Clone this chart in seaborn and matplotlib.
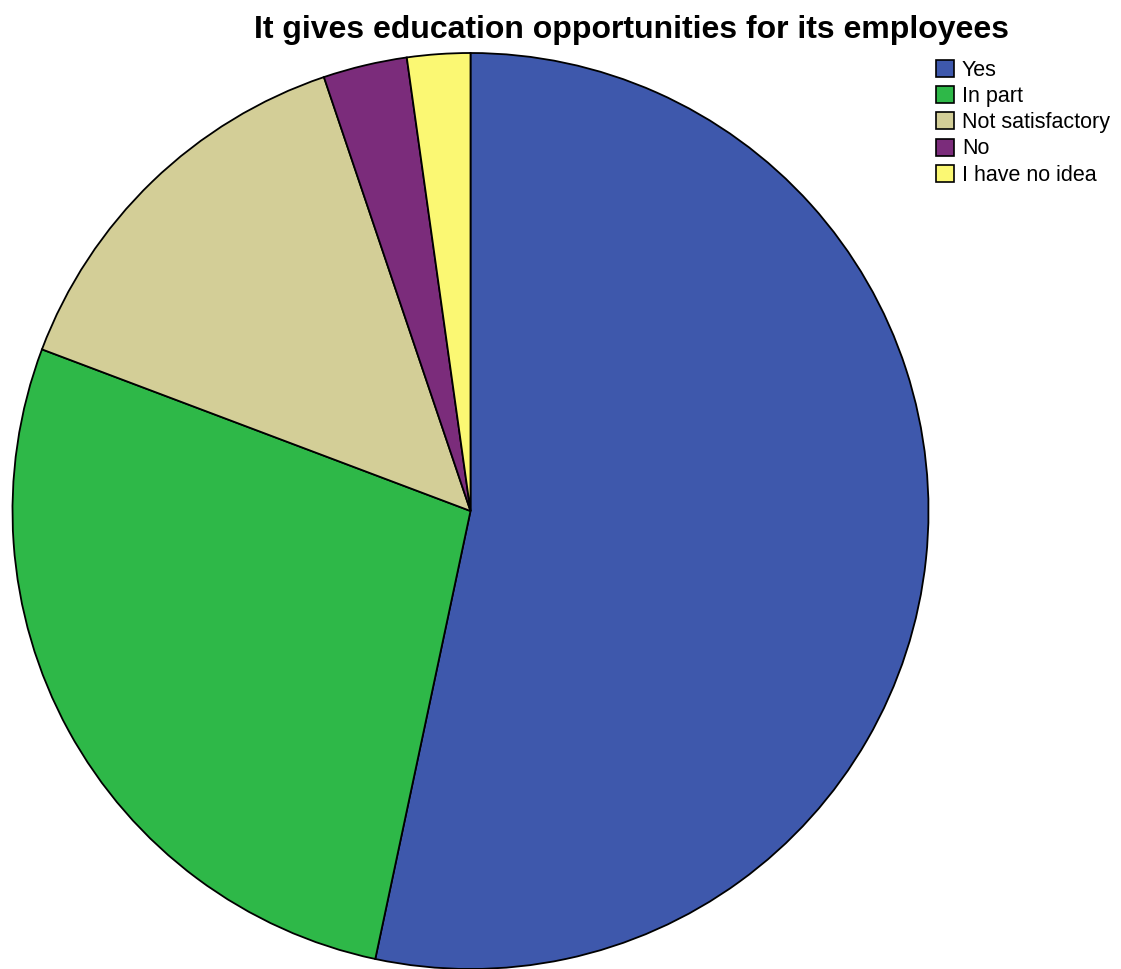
import matplotlib
matplotlib.use("Agg")
import matplotlib.pyplot as plt
import seaborn as sns
from matplotlib.patches import Patch

# Survey responses: "It gives education opportunities for its employees"
categories = ["Yes", "In part", "Not satisfactory", "No", "I have no idea"]
counts = [72, 37, 19, 4, 3]
slice_colors = ["#3E58AC", "#2EB848", "#D3CE97", "#7B2C7B", "#FBF873"]
title = "It gives education opportunities for its employees"

sns.set_theme(style="white")
plt.rcParams["font.family"] = ["Liberation Sans", "DejaVu Sans"]
plt.rcParams["text.color"] = "black"
palette = sns.color_palette(slice_colors)

W, H = 1121, 969
fig = plt.figure(figsize=(W / 100, H / 100), dpi=100)

# Square axes holding the pie (pixel geometry: centre ~ (470.5, 511), radius ~ 458)
cx, cy, r = 470.5, 511.0, 458.0
pad = 1.01
half = r * pad
ax = fig.add_axes([(cx - half) / W, (H - cy - half) / H, 2 * half / W, 2 * half / H])
wedges, _ = ax.pie(
    counts,
    colors=palette,
    startangle=90,
    counterclock=False,
    radius=1.0,
    wedgeprops=dict(edgecolor="black", linewidth=1.3),
)
ax.set_xlim(-pad, pad)
ax.set_ylim(-pad, pad)
ax.set_aspect("auto")
ax.axis("off")

fig.text(631 / W, 1 - 38 / H, title, ha="center", va="baseline",
         fontsize=23, fontweight="bold", color="black")

handles = [Patch(facecolor=c, edgecolor="black", linewidth=1.2) for c in palette]
leg = fig.legend(
    handles, categories,
    loc="upper left",
    bbox_to_anchor=(936 / W, 1 - 60 / H),
    frameon=False,
    fontsize=15.5,
    handlelength=0.84,
    handleheight=0.84,
    handletextpad=0.37,
    labelspacing=0.24,
    borderaxespad=0.0,
    borderpad=0.0,
)
for t in leg.get_texts():
    t.set_color("black")

fig.savefig("out.png", dpi=100)
